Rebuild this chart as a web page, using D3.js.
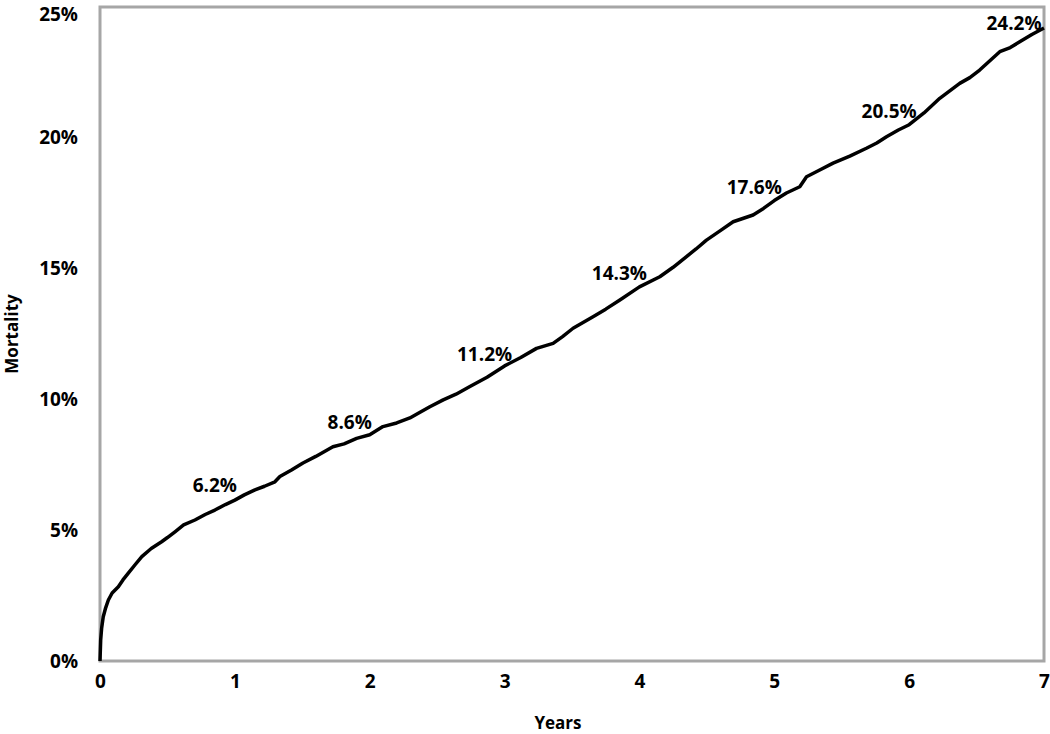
<!DOCTYPE html>
<html>
<head>
<meta charset="utf-8">
<script src="https://cdn.jsdelivr.net/npm/d3@7"></script>
<style>
  body { margin: 0; background: #fff; }
  text { font-family: "Open Sans", sans-serif; font-weight: bold; fill: #000; }
</style>
</head>
<body>
<svg id="chart" width="1050" height="734"></svg>
<script>
// cumulative mortality curve
var years = [0, 0.005, 0.012, 0.024, 0.04, 0.062, 0.09, 0.136, 0.17, 0.21, 0.26, 0.31, 0.38, 0.457,
  0.5, 0.556, 0.62, 0.704, 0.78, 0.852, 0.93, 1.0, 1.07, 1.149, 1.22, 1.297, 1.334, 1.42, 1.505,
  1.6, 1.727, 1.81, 1.903, 2.0, 2.098, 2.2, 2.298, 2.37, 2.446, 2.545, 2.64, 2.743, 2.87, 3.0,
  3.12, 3.237, 3.36, 3.43, 3.508, 3.656, 3.75, 3.855, 4.0, 4.151, 4.25, 4.349, 4.42, 4.497,
  4.6, 4.695, 4.843, 4.92, 5.0, 5.09, 5.189, 5.239, 5.337, 5.436, 5.56, 5.683, 5.76, 5.832,
  5.92, 6.0, 6.11, 6.227, 6.375, 6.45, 6.523, 6.672, 6.75, 6.82, 6.91, 7.0];
var mortality = [0, 0.8, 1.25, 1.69, 2.0, 2.33, 2.6, 2.84, 3.1, 3.36, 3.68, 3.99, 4.3, 4.56,
  4.72, 4.94, 5.2, 5.39, 5.6, 5.77, 5.98, 6.15, 6.35, 6.54, 6.68, 6.85, 7.05, 7.3, 7.57,
  7.82, 8.19, 8.3, 8.51, 8.65, 8.96, 9.1, 9.29, 9.5, 9.72, 9.98, 10.2, 10.49, 10.85, 11.28,
  11.6, 11.95, 12.14, 12.4, 12.72, 13.16, 13.45, 13.8, 14.3, 14.69, 15.05, 15.46, 15.75, 16.09,
  16.45, 16.79, 17.05, 17.3, 17.6, 17.89, 18.13, 18.51, 18.77, 19.03, 19.3, 19.6, 19.8, 20.04,
  20.3, 20.5, 20.95, 21.51, 22.08, 22.3, 22.59, 23.29, 23.45, 23.67, 23.95, 24.2];

var labelYears = [1, 2, 3, 4, 5, 6, 7];
var labelValues = [6.2, 8.6, 11.2, 14.3, 17.6, 20.5, 24.2];

var xTicks = [0, 1, 2, 3, 4, 5, 6, 7];
var yTicks = [0, 5, 10, 15, 20, 25];

var svg = d3.select('svg#chart');
var margin = {left: 100, top: 7, right: 6, bottom: 73};
var width = 1050 - margin.left - margin.right;
var height = 734 - margin.top - margin.bottom;

var x = d3.scaleLinear().domain([0, 7]).range([0, width]);
var y = d3.scaleLinear().domain([0, 25]).range([height, 0]);

var g = svg.append('g').attr('transform', 'translate(' + margin.left + ',' + margin.top + ')');

// plot border
g.append('rect')
  .attr('x', 0).attr('y', 0)
  .attr('width', width).attr('height', height)
  .attr('fill', 'none')
  .attr('stroke', '#a6a6a6')
  .attr('stroke-width', 3);

// axes (no tick marks, just labels)
var xAxis = g.append('g')
  .attr('transform', 'translate(0,' + height + ')')
  .call(d3.axisBottom(x).tickValues(xTicks).tickSize(0).tickPadding(14).tickFormat(d3.format('d')));
var yAxis = g.append('g')
  .call(d3.axisLeft(y).tickValues(yTicks).tickSize(0).tickPadding(22).tickFormat(function(d){ return d + '%'; }));
[xAxis, yAxis].forEach(function(a){
  a.select('.domain').remove();
  a.selectAll('text').style('font-size', '19px').style('font-family', '"Open Sans", sans-serif').style('font-weight', 'bold');
});
// keep the top label inside the page
yAxis.selectAll('.tick').filter(function(d){ return d == 25; }).select('text').attr('dy', '0.72em');

// the curve
var line = d3.line()
  .x(function(d){ return x(d[0]); })
  .y(function(d){ return y(d[1]); });
var pts = years.map(function(t, i){ return [t, mortality[i]]; });
g.append('path')
  .datum(pts)
  .attr('d', line)
  .attr('fill', 'none')
  .attr('stroke', '#000')
  .attr('stroke-width', 3.5)
  .attr('stroke-linejoin', 'round');

// value labels
g.selectAll('text.lbl')
  .data(labelYears)
  .enter().append('text')
  .attr('class', 'lbl')
  .attr('x', function(d, i){ return i == labelYears.length - 1 ? x(d) - 30 : x(d) - 20; })
  .attr('y', function(d, i){ return i == labelYears.length - 1 ? y(labelValues[i]) + 2 : y(labelValues[i]) - 7; })
  .attr('text-anchor', 'middle')
  .style('font-size', '19px')
  .text(function(d, i){ return labelValues[i].toFixed(1) + '%'; });

// axis titles
svg.append('text')
  .attr('x', 558).attr('y', 729)
  .attr('text-anchor', 'middle')
  .style('font-size', '17px')
  .text('Years');
svg.append('text')
  .attr('transform', 'translate(18,' + (margin.top + height / 2) + ') rotate(-90)')
  .attr('text-anchor', 'middle')
  .style('font-size', '17px')
  .text('Mortality');
</script>
</body>
</html>
